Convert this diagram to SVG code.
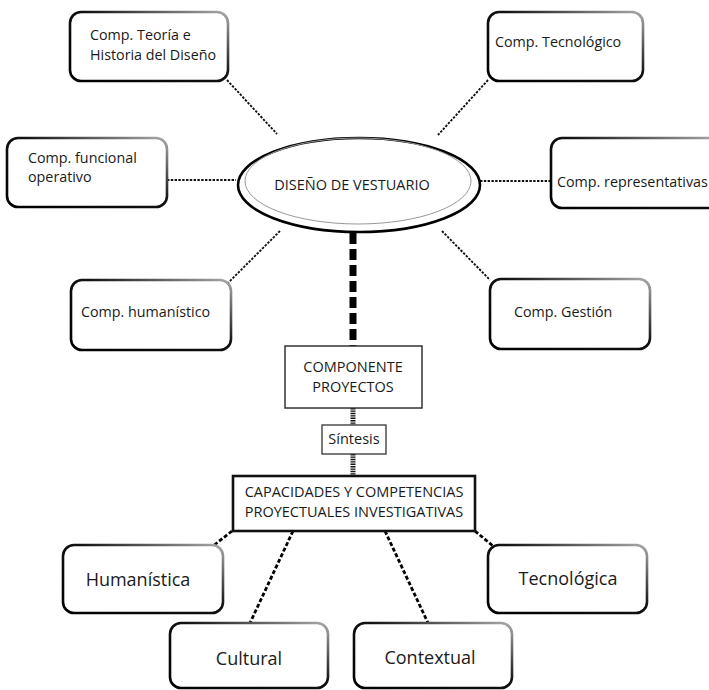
<svg xmlns="http://www.w3.org/2000/svg" width="709" height="690" viewBox="0 0 709 690">
<defs>
<linearGradient id="edge" x1="0" y1="1" x2="1" y2="0">
<stop offset="0" stop-color="#000"/>
<stop offset="0.55" stop-color="#111"/>
<stop offset="1" stop-color="#aaa"/>
</linearGradient>
<style>
.box{fill:#fff;stroke:url(#edge);stroke-width:2.6}
.t{font-family:"Open Sans","Noto Sans",sans-serif;fill:#1a1a1a;font-size:14.3px}
.tc{font-family:"Open Sans","Noto Sans",sans-serif;fill:#1a1a1a;font-size:14.5px;text-anchor:middle}
.big{font-family:"Open Sans","Noto Sans",sans-serif;fill:#1a1a1a;font-size:18px;text-anchor:middle}
.dot{stroke:#111;stroke-width:1.9;stroke-dasharray:2.4 1.4;fill:none}
.dot2{stroke:#000;stroke-width:2.8;stroke-dasharray:4 2.2;fill:none}
.fine{stroke:#111;stroke-width:5;stroke-dasharray:1.4 1;fill:none}
</style>
</defs>
<rect width="709" height="690" fill="#fff"/>
<g id="connectors">
<line class="dot" x1="227" y1="80" x2="277" y2="134"/>
<line class="dot" x1="167" y1="180" x2="236" y2="180"/>
<line class="dot" x1="280" y1="231" x2="228" y2="283"/>
<line class="dot" x1="488" y1="80" x2="438" y2="135"/>
<line class="dot" x1="480" y1="181" x2="551" y2="181"/>
<line class="dot" x1="442" y1="231" x2="490" y2="280"/>
<line x1="353" y1="233" x2="353" y2="346" stroke="#000" stroke-width="7" stroke-dasharray="11 5"/>
<line class="fine" x1="353" y1="408" x2="353" y2="425"/>
<line class="fine" x1="353" y1="454" x2="353" y2="476"/>
<line class="dot2" x1="232" y1="531" x2="213" y2="546"/>
<line class="dot2" x1="293" y1="531" x2="250" y2="623"/>
<line class="dot2" x1="385" y1="531" x2="428" y2="623"/>
<line class="dot2" x1="475" y1="531" x2="493" y2="546"/>
</g>
<g id="n-teoria">
<rect class="box" x="70" y="12" width="158" height="69" rx="11"/>
<text class="t" x="90" y="40">Comp. Teoría e</text>
<text class="t" x="90" y="60">Historia del Diseño</text>
</g>
<g id="n-tecnologico">
<rect class="box" x="488" y="12" width="155" height="69" rx="11"/>
<text class="t" x="495" y="47">Comp. Tecnológico</text>
</g>
<g id="n-funcional">
<rect class="box" x="7" y="138" width="160" height="69" rx="11"/>
<text class="t" x="28" y="163">Comp. funcional</text>
<text class="t" x="28" y="182">operativo</text>
</g>
<g id="n-representativas">
<rect class="box" x="551" y="138" width="170" height="70" rx="11"/>
<text class="t" x="557" y="187">Comp. representativas</text>
</g>
<g id="n-diseno">
<ellipse cx="359" cy="185" rx="121" ry="47" fill="#fff" stroke="#000" stroke-width="2.6"/>
<ellipse cx="358" cy="181" rx="113" ry="43" fill="none" stroke="#999" stroke-width="1"/>
<text class="tc" x="352" y="190">DISEÑO DE VESTUARIO</text>
</g>
<g id="n-humanistico">
<rect class="box" x="71" y="280" width="160" height="70" rx="11"/>
<text class="t" x="81" y="317">Comp. humanístico</text>
</g>
<g id="n-gestion">
<rect class="box" x="490" y="279" width="160" height="70" rx="11"/>
<text class="t" x="514" y="317">Comp. Gestión</text>
</g>
<g id="n-componente">
<rect x="285" y="346" width="137" height="62" fill="#fff" stroke="#333" stroke-width="1.5"/>
<text class="tc" x="353" y="372">COMPONENTE</text>
<text class="tc" x="353" y="392">PROYECTOS</text>
</g>
<g id="n-sintesis">
<rect x="322" y="425" width="64" height="29" fill="#fff" stroke="#333" stroke-width="1.3"/>
<text class="tc" x="354" y="444">Síntesis</text>
</g>
<g id="n-capacidades">
<rect x="233" y="476" width="242" height="55" fill="#fff" stroke="#111" stroke-width="2.6"/>
<text class="tc" x="354" y="497">CAPACIDADES Y COMPETENCIAS</text>
<text class="tc" x="354" y="517">PROYECTUALES INVESTIGATIVAS</text>
</g>
<g id="n-humanistica">
<rect class="box" x="63" y="545" width="160" height="68" rx="11"/>
<text class="big" x="138" y="586">Humanística</text>
</g>
<g id="n-tecnologica">
<rect class="box" x="488" y="545" width="159" height="68" rx="11"/>
<text class="big" x="568" y="585">Tecnológica</text>
</g>
<g id="n-cultural">
<rect class="box" x="170" y="623" width="158" height="65" rx="11"/>
<text class="big" x="249" y="665">Cultural</text>
</g>
<g id="n-contextual">
<rect class="box" x="354" y="623" width="158" height="65" rx="11"/>
<text class="big" x="430" y="664">Contextual</text>
</g>
</svg>
